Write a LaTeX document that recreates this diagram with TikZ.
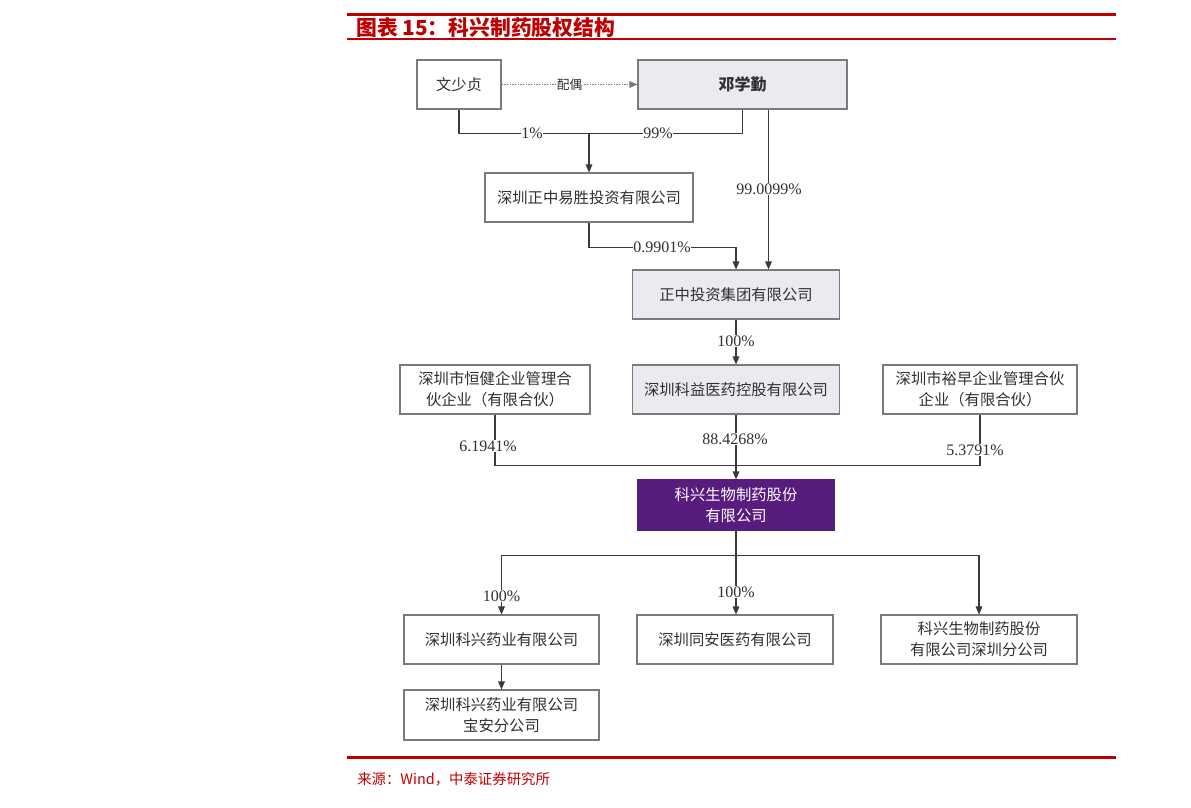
\documentclass[tikz,border=0pt]{standalone}
\usepackage{fontspec}
\setmainfont{Liberation Serif}
\newfontfamily\cjk{Noto Sans CJK SC}
\usetikzlibrary{arrows.meta}
\definecolor{hdred}{HTML}{C00000}
\definecolor{bordergray}{HTML}{7A7A7A}
\definecolor{linegray}{HTML}{3A3A3A}
\definecolor{txtgray}{HTML}{303030}
\definecolor{lavender}{HTML}{ECE9F1}
\definecolor{kxpurple}{HTML}{581C7F}
\tikzset{
  orgbox/.style={draw=bordergray, line width=0.8pt, inner sep=0pt, align=center,
    text=txtgray, font=\cjk\fontsize{11.5}{16}\selectfont,
    minimum height=36.75pt},
  lavbox/.style={orgbox, fill=lavender},
  pct/.style={fill=white, inner sep=0.6pt, text=txtgray, font=\fontsize{12}{14}\selectfont},
  conn/.style={draw=linegray, line width=0.8pt},
  arr/.style={conn, -{Triangle[length=6pt,width=5pt]}},
}
\begin{document}
\begin{tikzpicture}[x=0.75pt,y=-0.75pt]
\useasboundingbox (0,0) rectangle (1191,807);
% header
\draw[hdred, line width=1.7pt] (347,14.5) -- (1116,14.5);
\draw[hdred, line width=1.5pt] (347,38.5) -- (1116,38.5);
\node[anchor=west, inner sep=0pt, text=hdred, font=\cjk\bfseries\fontsize{15.6}{18}\selectfont] (title) at (356,27.5) {图表 15：科兴制药股权结构};
% boxes
\node[orgbox, minimum width=63pt] (wsz) at (459,84.5) {文少贞};
\node[lavbox, minimum width=156.75pt, font=\cjk\bfseries\fontsize{12}{16}\selectfont] (dxq) at (742.5,84.5) {邓学勤};
\node[orgbox, minimum width=156pt] (ys) at (589,197.5) {深圳正中易胜投资有限公司};
\node[lavbox, minimum width=155.25pt] (zz) at (736,294.5) {正中投资集团有限公司};
\node[lavbox, minimum width=155.25pt] (ky) at (736,389.5) {深圳科益医药控股有限公司};
\node[orgbox, minimum width=142.5pt] (hj) at (495,389.5) {深圳市恒健企业管理合\\伙企业（有限合伙）};
\node[orgbox, minimum width=145.5pt] (yz) at (980,389.5) {深圳市裕早企业管理合伙\\企业（有限合伙）};
\node[orgbox, fill=kxpurple, draw=kxpurple, text=white, minimum width=147pt, minimum height=37.5pt] (kx) at (736,505) {科兴生物制药股份\\有限公司};
\node[orgbox, minimum width=146.25pt] (sk) at (501.5,639.5) {深圳科兴药业有限公司};
\node[orgbox, minimum width=147pt] (ta) at (735,639.5) {深圳同安医药有限公司};
\node[orgbox, minimum width=147pt] (sz) at (979,639.5) {科兴生物制药股份\\有限公司深圳分公司};
\node[orgbox, minimum width=146.25pt, minimum height=37.5pt] (ba) at (501.5,715) {深圳科兴药业有限公司\\宝安分公司};
% spouse
\draw[draw=bordergray, line width=0.7pt, dash pattern=on 1pt off 1pt, -{Triangle[length=6pt,width=5pt]}] (wsz.east) -- node[midway, fill=white, inner sep=1pt, text=txtgray, font=\cjk\fontsize{9.5}{11}\selectfont] (po) {配偶} (dxq.west);
% top ownership
\draw[conn] (wsz.south) -- ++(0,24) -| (dxq.south);
\coordinate (j1) at (589,133);
\draw[arr] (j1) -- (ys.north);
\node[pct] (p1) at (532,133) {1\%};
\node[pct] (p99) at (658,133) {99\%};
\draw[arr] ([xshift=19.5pt]dxq.south) -- ([xshift=19.5pt]dxq.south |- zz.north);
\node[pct] (p990) at (769,189) {99.0099\%};
\draw[arr] (ys.south) -- ++(0,25) -| (zz.north);
\node[pct] (p0990) at (662,247) {0.9901\%};
\draw[arr] (zz.south) -- (ky.north);
\node[pct] (p100a) at (736,341) {100\%};
% second level
\draw[conn] (hj.south) -- ++(0,51) -| (yz.south);
\draw[arr] (ky.south) -- (kx.north);
\node[pct] (p884) at (735,439) {88.4268\%};
\node[pct] (p619) at (488,446) {6.1941\%};
\node[pct] (p537) at (975,450) {5.3791\%};
% subsidiaries
\draw[conn] (kx.south) -- ++(0,25) coordinate (kb);
\draw[arr] (kb) -| (sk.north);
\draw[arr] (kb) -| (sz.north);
\draw[arr] (kb) -- (kb |- ta.north);
\node[pct] (p100b) at (501.5,596) {100\%};
\node[pct] (p100c) at (736,592) {100\%};
\draw[arr] (sk.south) -- (ba.north);
% footer
\draw[hdred, line width=1.7pt] (347,757.5) -- (1116,757.5);
\node[anchor=west, inner sep=0pt, text=hdred, font=\cjk\fontsize{10.8}{13}\selectfont] (src) at (357,779) {来源：Wind，中泰证券研究所};
\end{tikzpicture}
\end{document}
